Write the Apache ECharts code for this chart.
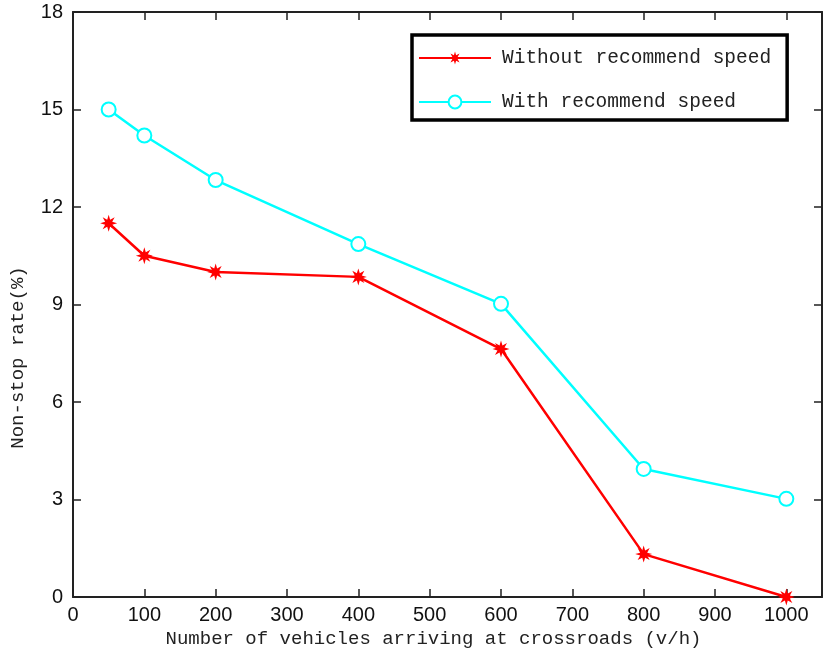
<!DOCTYPE html>
<html>
<head>
<meta charset="utf-8">
<script src="https://cdn.jsdelivr.net/npm/echarts@6/dist/echarts.min.js"></script>
<style>
  html, body { margin: 0; padding: 0; background: #fff; }
  #chart { width: 823px; height: 659px; }
</style>
</head>
<body>
<div id="chart"></div>
<script>
// vehicle arrival rate (v/h)
const arrivals = [50, 100, 200, 400, 600, 800, 1000];
// non-stop rate (%)
const withoutSpeed = [11.5, 10.5, 10.0, 9.85, 7.63, 1.32, 0];
const withSpeed = [15.0, 14.2, 12.83, 10.86, 9.02, 3.94, 3.02];
const seriesNames = ["Without recommend speed", "With recommend speed"];

const monoFont = "Liberation Mono";
const numFont = "Liberation Sans";

// asterisk-like marker (MATLAB '*')
const starPath =
  "path://M0,-10 L1.72,-4.16 L7.07,-7.07 L4.16,-1.72 L10,0 L4.16,1.72 L7.07,7.07 L1.72,4.16 L0,10 L-1.72,4.16 L-7.07,7.07 L-4.16,1.72 L-10,0 L-4.16,-1.72 L-7.07,-7.07 L-1.72,-4.16 Z";

const toPairs = (ys) => arrivals.map((x, i) => [x, ys[i]]);

const axisLine = { show: true, onZero: false, lineStyle: { color: "#222", width: 2 } };
const tickIn = { show: true, inside: true, length: 8, lineStyle: { color: "#222", width: 1.5 } };

const chart = echarts.init(document.getElementById("chart"));
chart.setOption({
  animation: false,
  backgroundColor: "#fff",
  grid: { left: 73, right: 1, top: 12, bottom: 62 },
  legend: {
    orient: "vertical",
    left: 412,
    top: 35,
    padding: [13, 16, 8, 6],
    borderColor: "#000",
    borderWidth: 3.5,
    borderRadius: 0,
    itemWidth: 72,
    itemHeight: 16,
    itemGap: 24,
    textStyle: { fontFamily: monoFont, fontSize: 19.5, color: "#222", padding: [0, 0, 0, 6] },
    data: seriesNames
  },
  xAxis: [
    {
      type: "value",
      min: 0,
      max: 1050,
      interval: 100,
      name: "Number of vehicles arriving at crossroads (v/h)",
      nameLocation: "middle",
      nameGap: 32,
      nameTextStyle: { fontFamily: monoFont, fontSize: 19, color: "#222", padding: [0, 28, 0, 0] },
      axisLine: axisLine,
      axisTick: tickIn,
      axisLabel: {
        fontFamily: numFont, fontSize: 20, color: "#111", margin: 8, showMaxLabel: false,
        formatter: (v) => String(v)
      },
      splitLine: { show: false }
    },
    {
      type: "value",
      position: "top",
      min: 0,
      max: 1050,
      interval: 100,
      axisLine: axisLine,
      axisTick: tickIn,
      axisLabel: { show: false },
      splitLine: { show: false }
    }
  ],
  yAxis: [
    {
      type: "value",
      min: 0,
      max: 18,
      interval: 3,
      name: "Non-stop rate(%)",
      nameLocation: "middle",
      nameGap: 46,
      nameTextStyle: { fontFamily: monoFont, fontSize: 19, color: "#222", padding: [0, 106, 0, 0] },
      axisLine: axisLine,
      axisTick: tickIn,
      axisLabel: { fontFamily: numFont, fontSize: 20, color: "#111", margin: 10 },
      splitLine: { show: false }
    },
    {
      type: "value",
      position: "right",
      min: 0,
      max: 18,
      interval: 3,
      axisLine: axisLine,
      axisTick: tickIn,
      axisLabel: { show: false },
      splitLine: { show: false }
    }
  ],
  series: [
    {
      name: seriesNames[0],
      type: "line",
      data: toPairs(withoutSpeed),
      symbol: starPath,
      symbolSize: 17,
      lineStyle: { color: "#ff0000", width: 2.5 },
      itemStyle: { color: "#ff0000" }
    },
    {
      name: seriesNames[1],
      type: "line",
      data: toPairs(withSpeed),
      symbol: "emptyCircle",
      symbolSize: 14,
      lineStyle: { color: "#00ffff", width: 2.5 },
      itemStyle: { color: "#00ffff", borderWidth: 2.5 }
    }
  ]
});
</script>
</body>
</html>
